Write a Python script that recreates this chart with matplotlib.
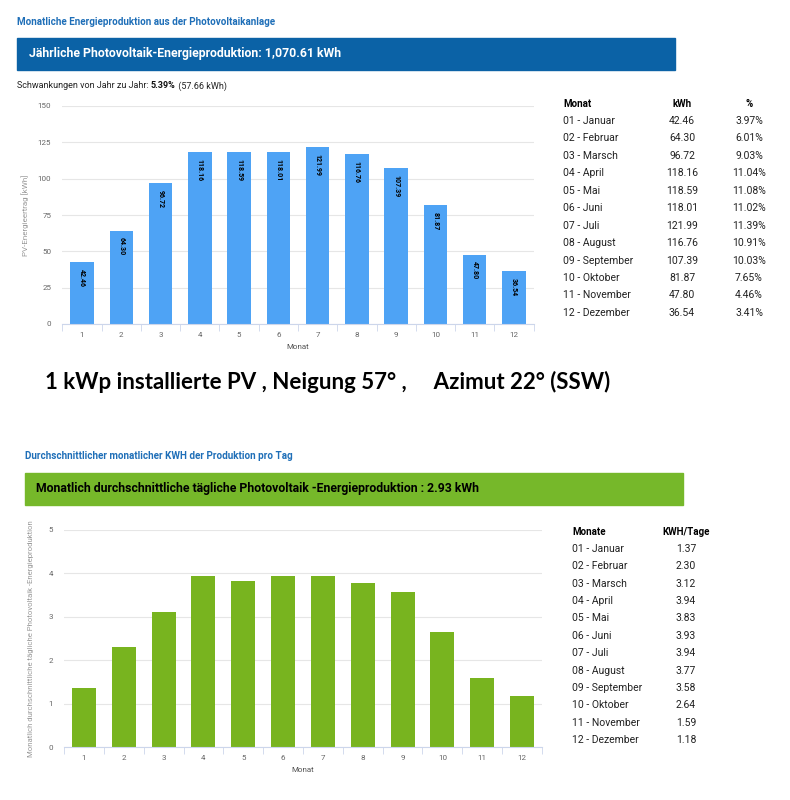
import matplotlib
matplotlib.use("Agg")
import matplotlib.pyplot as plt
from matplotlib.patches import Rectangle

W, H = 790, 800

months = list(range(1, 13))
month_names = ["01 - Januar", "02 - Februar", "03 - Marsch", "04 - April", "05 - Mai", "06 - Juni",
               "07 - Juli", "08 - August", "09 - September", "10 - Oktober", "11 - November", "12 - Dezember"]
kwh = [42.46, 64.30, 96.72, 118.16, 118.59, 118.01, 121.99, 116.76, 107.39, 81.87, 47.80, 36.54]
kwh_pct = ["3.97%", "6.01%", "9.03%", "11.04%", "11.08%", "11.02%",
           "11.39%", "10.91%", "10.03%", "7.65%", "4.46%", "3.41%"]
kwh_day = [1.37, 2.30, 3.12, 3.94, 3.83, 3.93, 3.94, 3.77, 3.58, 2.64, 1.59, 1.18]

plt.rcParams['font.family'] = ['Roboto', 'DejaVu Sans']

fig = plt.figure(figsize=(W / 100, H / 100), dpi=100)


def fx(x):
    return x / W


def fy(y):
    return 1 - y / H


def txt(x, y, s, **kw):
    return fig.text(fx(x), fy(y), s, **kw)


def banner(x0, y0, x1, y1, color):
    fig.patches.append(Rectangle((fx(x0), fy(y1)), fx(x1 - x0), (y1 - y0) / H,
                                 transform=fig.transFigure, color=color, zorder=0))


def bar_axes(x0, y0, x1, y1):
    ax = fig.add_axes([fx(x0), fy(y1), fx(x1 - x0), (y1 - y0) / H])
    for s in ["top", "right", "left"]:
        ax.spines[s].set_visible(False)
    ax.spines["bottom"].set_color("#ccd6eb")
    ax.grid(axis="y", color="#e6e6e6", linewidth=0.8)
    ax.set_axisbelow(True)
    ax.tick_params(axis="y", length=0, labelsize=5.8, labelcolor="#666666", pad=8)
    ax.tick_params(axis="x", length=0, labelsize=5.8, labelcolor="#666666", pad=6)
    ax.set_xlim(0.5, 12.5)
    ax.set_xticks(months)
    ax.set_xticks([m + 0.5 for m in range(0, 13)], minor=True)
    ax.tick_params(axis="x", which="minor", length=5, color="#ccd6eb")
    return ax


# ---------- top part ----------
txt(17, 22, "Monatliche Energieproduktion aus der Photovoltaikanlage", color="#1f6fb8",
    fontsize=7.1, fontweight="bold", va="center")
banner(17, 38, 675, 70, "#0b62a6")
txt(29, 54, "Jährliche Photovoltaik-Energieproduktion: 1,070.61 kWh", color="white",
    fontsize=8.8, fontweight="bold", va="center")

r = fig.canvas.get_renderer()
t1 = txt(17, 86, "Schwankungen von Jahr zu Jahr: ", fontsize=6.5, va="center", color="#222222")
x = 17 + t1.get_window_extent(r).width
t2 = txt(x, 86, "5.39%", fontsize=6.5, fontweight="bold", va="center", color="#111111")
x += t2.get_window_extent(r).width
txt(x, 86, " (57.66 kWh)", fontsize=6.5, va="center", color="#222222")

ax1 = bar_axes(62.4, 106, 533.6, 324)
ax1.bar(months, kwh, width=0.6, color="#4ea3f5")
ax1.set_ylim(0, 150)
ax1.set_yticks([0, 25, 50, 75, 100, 125, 150])
ax1.set_ylabel("PV-Energieertrag [kWh]", fontsize=5.8, color="#999999", labelpad=6)
ax1.set_xlabel("Monat", fontsize=5.8, color="#555555", labelpad=4)
for m, v in zip(months, kwh):
    ax1.annotate(f"{v:.2f}", (m, v), xytext=(0, -5), textcoords="offset points",
                 rotation=270, ha="center", va="top", fontsize=5, fontweight="bold", color="black")

# table top
txt(563, 104, "Monat", fontsize=7, fontweight="bold", va="center")
txt(682, 104, "kWh", fontsize=7, fontweight="bold", va="center", ha="center")
txt(749, 104, "%", fontsize=7, fontweight="bold", va="center", ha="center")
for i, (n, v, p) in enumerate(zip(month_names, kwh, kwh_pct)):
    y = 121 + i * 17.45
    txt(563, y, n, fontsize=7.5, va="center", color="#222222")
    txt(682, y, f"{v:.2f}", fontsize=7.5, va="center", ha="center", color="#222222")
    txt(749, y, p, fontsize=7.5, va="center", ha="center", color="#222222")

# caption
txt(45, 382, "1 kWp installierte PV , Neigung 57° ,     Azimut 22° (SSW)", fontsize=16,
    fontweight="bold", va="center", family=["Lato", "DejaVu Sans"], color="black")

# ---------- bottom part ----------
txt(25, 456, "Durchschnittlicher monatlicher KWH der Produktion pro Tag", color="#1f6fb8",
    fontsize=7.1, fontweight="bold", va="center")
banner(25, 473, 683, 505, "#76b82a")
txt(36, 489, "Monatlich durchschnittliche tägliche Photovoltaik -Energieproduktion : 2.93 kWh",
    color="black", fontsize=8.8, fontweight="bold", va="center")

ax2 = bar_axes(64, 530, 542, 747)
ax2.bar(months, kwh_day, width=0.6, color="#78b41f")
ax2.set_ylim(0, 5)
ax2.set_yticks([0, 1, 2, 3, 4, 5])
ax2.set_ylabel("Monatlich durchschnittliche tägliche Photovoltaik -Energieproduktion",
               fontsize=5.6, color="#999999", labelpad=10)
ax2.set_xlabel("Monat", fontsize=5.8, color="#555555", labelpad=4)

txt(572, 532, "Monate", fontsize=7, fontweight="bold", va="center")
txt(686, 532, "KWH/Tage", fontsize=7, fontweight="bold", va="center", ha="center")
for i, (n, v) in enumerate(zip(month_names, kwh_day)):
    y = 549 + i * 17.36
    txt(572, y, n, fontsize=7.5, va="center", color="#222222")
    txt(686, y, f"{v:.2f}", fontsize=7.5, va="center", ha="center", color="#222222")

fig.savefig("out.png", dpi=100, facecolor="white")
